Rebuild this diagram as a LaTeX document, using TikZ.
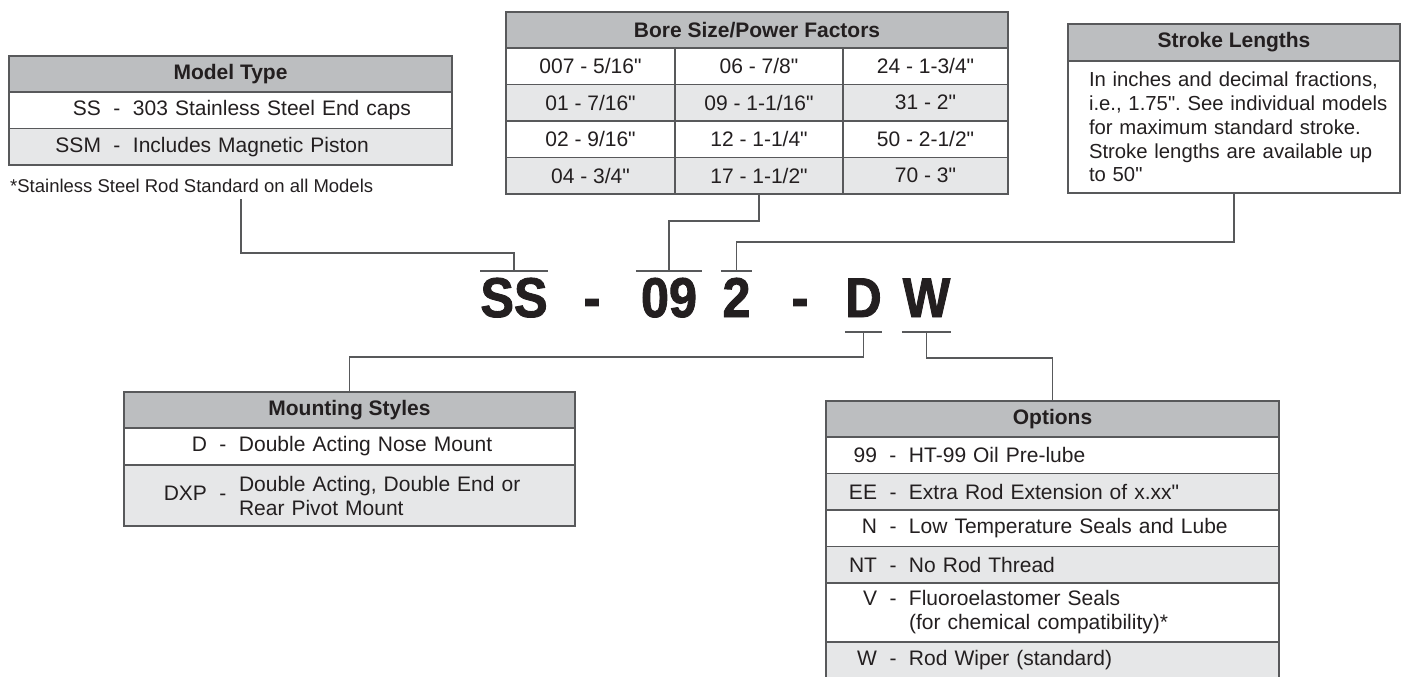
\documentclass[tikz,border=0pt]{standalone}
\usepackage{fontspec}
\setmainfont{Liberation Sans}[Ligatures=TeXOff]
\newfontfamily\bigcodefont[FakeStretch=0.9,FakeBold=1.6]{Liberation Sans}
\usetikzlibrary{positioning}

\definecolor{ink}{HTML}{231F20}
\definecolor{edge}{HTML}{58595B}
\definecolor{hdrfill}{HTML}{BCBEC0}
\definecolor{rowfill}{HTML}{E6E7E8}

\newcommand\txfont{\fontsize{21}{24}\selectfont}
\newcommand\hdfont{\bfseries\fontsize{21}{24}\selectfont}
\newcommand\ntfont{\fontsize{18.5}{21}\selectfont}
\newcommand\slfont{\fontsize{20.3}{23.8}\selectfont}
\newcommand\bigfont{\bigcodefont\bfseries\fontsize{56}{60}\selectfont}
\newcommand\codeentry[3]{\makebox[#1][r]{#2}\makebox[32pt]{-}#3}
\frenchspacing

\begin{document}
\begin{tikzpicture}[x=1pt,y=-1pt,
  tblbox/.style={draw=edge,line width=1.8pt,inner sep=0pt,outer sep=0pt,text=ink},
  hdr/.style={tblbox,fill=hdrfill,font=\hdfont,minimum height=36pt},
  rowbox/.style={tblbox,fill=white,font=\txfont,minimum height=36.5pt,align=left},
  cellbox/.style={tblbox,font=\txfont,minimum height=36.5pt},
  link/.style={draw=edge,line width=1.6pt},
  codechar/.style={font=\bigfont,text=ink,inner sep=0pt,anchor=base,text height=40pt,text depth=0pt}]
\useasboundingbox (0,0) rectangle (1403,677);
\clip (0,0) rectangle (1403,677);

% model type
\node[hdr,minimum width=443pt,anchor=north west] (mt-hdr) at (9,56) {Model Type};
\node[rowbox,text width=443pt,below=0pt of mt-hdr] (mt-ss) {\codeentry{92pt}{SS}{303 Stainless Steel End caps}};
\node[rowbox,fill=rowfill,text width=443pt,below=0pt of mt-ss] (mt-ssm) {\codeentry{92pt}{SSM}{Includes Magnetic Piston}};
\node[font=\ntfont,text=ink,anchor=west,inner sep=0pt] (mt-note) at (10,186) {*Stainless Steel Rod Standard on all Models};
\coordinate (mt-tap) at (241,199);

% bore size
\node[hdr,minimum width=502pt,anchor=north west] (bs-hdr) at (506,12) {Bore Size/Power Factors};
\node[cellbox,fill=white,minimum width=169pt,anchor=north west] (b11) at (bs-hdr.south west) {007 - 5/16"};
\node[cellbox,fill=white,minimum width=168pt,right=0pt of b11] (b12) {06 - 7/8"};
\node[cellbox,fill=white,minimum width=165pt,right=0pt of b12] (b13) {24 - 1-3/4"};
\node[cellbox,fill=rowfill,minimum width=169pt,below=0pt of b11] (b21) {01 - 7/16"};
\node[cellbox,fill=rowfill,minimum width=168pt,right=0pt of b21] (b22) {09 - 1-1/16"};
\node[cellbox,fill=rowfill,minimum width=165pt,right=0pt of b22] (b23) {31 - 2"};
\node[cellbox,fill=white,minimum width=169pt,below=0pt of b21] (b31) {02 - 9/16"};
\node[cellbox,fill=white,minimum width=168pt,right=0pt of b31] (b32) {12 - 1-1/4"};
\node[cellbox,fill=white,minimum width=165pt,right=0pt of b32] (b33) {50 - 2-1/2"};
\node[cellbox,fill=rowfill,minimum width=169pt,below=0pt of b31] (b41) {04 - 3/4"};
\node[cellbox,fill=rowfill,minimum width=168pt,right=0pt of b41] (b42) {17 - 1-1/2"};
\node[cellbox,fill=rowfill,minimum width=165pt,right=0pt of b42] (b43) {70 - 3"};

% stroke lengths
\node[hdr,minimum width=332pt,minimum height=37pt,anchor=north west] (sl-hdr) at (1068,24) {Stroke Lengths};
\node[rowbox,font=\slfont,minimum height=132pt,text width=332pt,below=0pt of sl-hdr] (sl-body)
  {\hspace*{21pt}\parbox[c]{311pt}{\raggedright In inches and decimal fractions,\\ i.e., 1.75". See individual models\\ for maximum standard stroke.\\ Stroke lengths are available up\\ to 50"}};

% model number
\node[codechar,minimum width=64pt] (ss) at (514,317) {SS};
\node[codechar] (dash1) at (592,317) {-};
\node[codechar,minimum width=66pt] (n09) at (669,317) {09};
\node[codechar,minimum width=31pt] (n2) at (736.5,317) {2};
\node[codechar] (dash2) at (800,317) {-};
\node[codechar,minimum width=37pt] (d) at (863.5,317) {D};
\node[codechar,minimum width=49pt] (w) at (926.5,317) {W};
\foreach \c in {ss,n09,n2}
  \draw[link] ([yshift=6pt]\c.north west) -- ([yshift=6pt]\c.north east);
\foreach \c in {d,w}
  \draw[link] ([yshift=-15pt]\c.south west) -- ([yshift=-15pt]\c.south east);

% mounting styles
\node[hdr,minimum width=451pt,anchor=north west] (ms-hdr) at (124,392) {Mounting Styles};
\node[rowbox,minimum height=37pt,text width=451pt,below=0pt of ms-hdr] (ms-d) {\codeentry{83pt}{D}{Double Acting Nose Mount}};
\node[rowbox,fill=rowfill,minimum height=61pt,text width=451pt,below=0pt of ms-d] (ms-dxp)
  {\codeentry{83pt}{DXP}{\parbox[c]{320pt}{Double Acting, Double End or\\Rear Pivot Mount}}};

% options
\node[hdr,minimum width=453pt,anchor=north west] (op-hdr) at (826,401) {Options};
\node[rowbox,text width=453pt,below=0pt of op-hdr] (op-99) {\codeentry{51pt}{99}{HT-99 Oil Pre-lube}};
\node[rowbox,fill=rowfill,text width=453pt,below=0pt of op-99] (op-ee) {\codeentry{51pt}{EE}{Extra Rod Extension of x.xx"}};
\node[rowbox,text width=453pt,below=0pt of op-ee] (op-n) {\codeentry{51pt}{N}{Low Temperature Seals and Lube}};
\node[rowbox,fill=rowfill,text width=453pt,below=0pt of op-n] (op-nt) {\codeentry{51pt}{NT}{No Rod Thread}};
\node[rowbox,minimum height=59pt,text width=453pt,below=0pt of op-nt] (op-v)
  {\codeentry{51pt}{V}{\parbox[t]{360pt}{Fluoroelastomer Seals\\(for chemical compatibility)*}}};
\node[rowbox,fill=rowfill,text width=453pt,below=0pt of op-v] (op-w) {\codeentry{51pt}{W}{Rod Wiper (standard)}};

% connectors
\draw[link] (mt-tap) -- ++(0,54) -| ([yshift=6pt]ss.north);
\draw[link] (b42.south) -- ++(0,27) -| ([yshift=6pt]n09.north);
\draw[link] (sl-body.south) -- ++(0,49) -| ([yshift=6pt]n2.north);
\draw[link] ([yshift=-15pt]d.south) -- ++(0,25) -| (ms-hdr.north);
\draw[link] ([yshift=-15pt]w.south) -- ++(0,26) -| (op-hdr.north);
\end{tikzpicture}
\end{document}
